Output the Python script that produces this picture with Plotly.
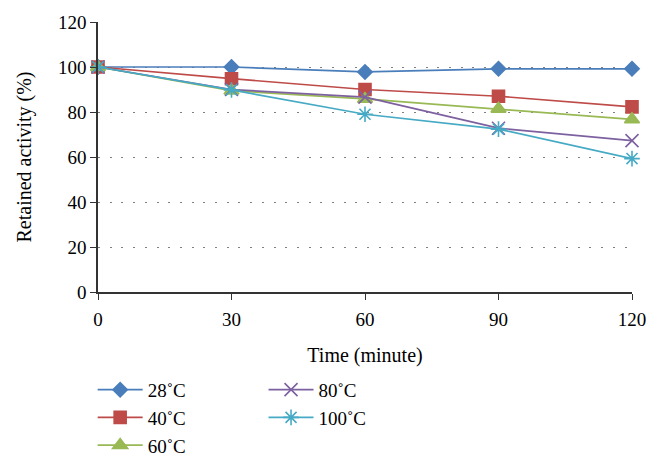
import plotly.graph_objects as go

time_min = [0, 30, 60, 90, 120]
s28 = [100, 100, 97.8, 99.2, 99.2]
s40 = [100, 94.8, 90.0, 87.0, 82.3]
s60 = [100, 89.5, 85.8, 81.4, 76.7]
s80 = [100, 90.0, 86.6, 72.8, 67.3]
s100 = [100, 89.8, 79.0, 72.4, 59.3]
names = ["28˚C", "40˚C", "60˚C", "80˚C", "100˚C"]
y_ticks = [0, 20, 40, 60, 80, 100, 120]

series = [s28, s40, s60, s80, s100]
colors = ["#4A7EBB", "#BE4B48", "#98B954", "#7D60A0", "#46AAC5"]
symbols = ["diamond", "square", "triangle-up", "x-thin-open", "asterisk-open"]
sizes = [11, 12, 13, 13, 13]
legends = ["legend", "legend", "legend", "legend2", "legend2"]

font = "Liberation Serif"
fig = go.Figure()
for ys, nm, c, sym, sz, lg in zip(series, names, colors, symbols, sizes, legends):
    fig.add_trace(go.Scatter(
        x=time_min, y=ys, name=nm, mode="lines+markers",
        line=dict(color=c, width=1.7),
        marker=dict(symbol=sym, size=sz, color=c, line=dict(color=c, width=1.6)),
        cliponaxis=False, legend=lg,
    ))

leg_common = dict(yanchor="top", xanchor="left", orientation="v",
                  font=dict(family=font, size=19), bgcolor="rgba(0,0,0,0)",
                  tracegroupgap=0, itemwidth=45)
fig.update_layout(
    width=661, height=468,
    margin=dict(l=98, r=29, t=22, b=176, autoexpand=False),
    paper_bgcolor="white", plot_bgcolor="white",
    font=dict(family=font, size=19, color="black"),
    showlegend=True,
    legend=dict(x=-0.010, y=-0.292, **leg_common),
    legend2=dict(x=0.31, y=-0.292, **leg_common),
    xaxis=dict(
        range=[0, 120], tickvals=time_min, ticks="outside", ticklen=6, tickcolor="#333",
        showline=True, linecolor="#333", linewidth=1.5, showgrid=False, zeroline=False,
        automargin=False, ticklabelstandoff=3,
        title=dict(text="Time (minute)", font=dict(family=font, size=20), standoff=19),
        tickfont=dict(family=font, size=19),
    ),
    yaxis=dict(
        range=[0, 120], tickvals=y_ticks, ticks="outside", ticklen=6, tickcolor="#333",
        showline=True, linecolor="#333", linewidth=1.5, automargin=False,
        showgrid=True, gridcolor="#808080", gridwidth=1.3, griddash="2px,9.7px", zeroline=False,
        title=dict(text="Retained activity (%)", font=dict(family=font, size=20), standoff=21),
        tickfont=dict(family=font, size=19),
    ),
)

fig.write_html("out.html", config={"displayModeBar": False},
               post_script="document.body.style.margin='0px';")
